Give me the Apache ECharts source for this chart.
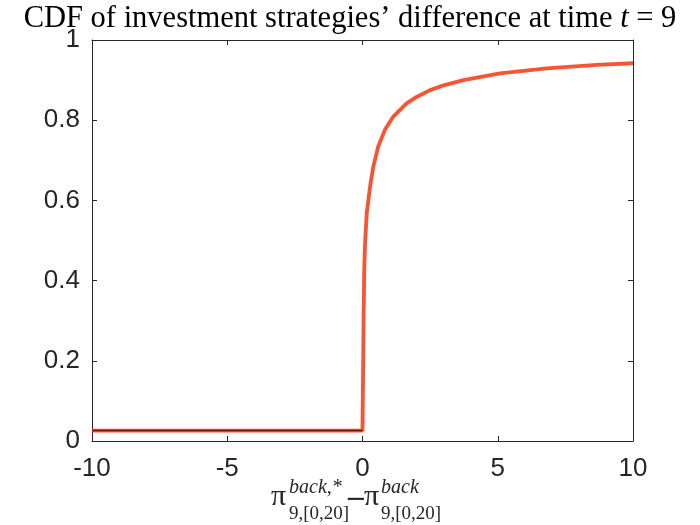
<!DOCTYPE html>
<html>
<head>
<meta charset="utf-8">
<script src="https://cdn.jsdelivr.net/npm/echarts@6/dist/echarts.min.js"></script>
<style>
  html, body { margin: 0; padding: 0; background: #fff; }
  #main { width: 700px; height: 525px; }
</style>
</head>
<body>
<div id="main"></div>
<script>
// CDF values
var cdfX = [-10, 0, 0.02, 0.04, 0.065, 0.1, 0.16, 0.28, 0.40, 0.58, 0.83, 1.14, 1.63, 2.0, 2.5, 3.0, 3.73, 5.08, 6.81, 8.66, 10];
var cdfY = [0.026, 0.026, 0.15, 0.30, 0.43, 0.50, 0.57, 0.634, 0.684, 0.734, 0.776, 0.809, 0.842, 0.858, 0.875, 0.887, 0.900, 0.917, 0.929, 0.938, 0.942];
// flat part below zero
var flatX = [-10, 0];
var flatY = [0.026, 0.026];
var xTicks = [-10, -5, 0, 5, 10];
var yTicks = [0, 0.2, 0.4, 0.6, 0.8, 1];

function pairs(xs, ys) {
  var out = [];
  for (var i = 0; i < xs.length; i++) out.push([xs[i], ys[i]]);
  return out;
}

var axisColor = '#262626';
var labelFont = { fontFamily: 'Liberation Sans', fontSize: 26, color: axisColor };

// little helper for the math label pieces
function mathText(x, y, txt, font) {
  return {
    type: 'text', x: x, y: y,
    style: { text: txt, font: font, fill: '#262626', align: 'left', verticalAlign: 'middle' }
  };
}

var myChart = echarts.init(document.getElementById('main'));

var option = {
  animation: false,
  backgroundColor: '#fff',
  title: {
    text: 'CDF of investment strategies’ difference at time {t|t} = 9',
    left: 'center',
    top: -2,
    textStyle: {
      fontFamily: 'Liberation Serif',
      fontSize: 30.5,
      fontWeight: 'normal',
      color: '#000',
      rich: {
        t: { fontFamily: 'Liberation Serif', fontStyle: 'italic', fontSize: 30.5, color: '#000' }
      }
    }
  },
  grid: { left: 92, right: 67, top: 40, bottom: 84 },
  xAxis: [
    {
      type: 'value', min: xTicks[0], max: xTicks[xTicks.length - 1], interval: 5,
      axisLine: { show: true, onZero: false, lineStyle: { color: axisColor, width: 1 } },
      axisTick: { show: true, inside: true, length: 5, lineStyle: { color: axisColor } },
      axisLabel: Object.assign({ margin: 15 }, labelFont),
      splitLine: { show: false }
    },
    {
      type: 'value', position: 'top', min: xTicks[0], max: xTicks[xTicks.length - 1], interval: 5,
      axisLine: { show: true, onZero: false, lineStyle: { color: axisColor, width: 1 } },
      axisTick: { show: true, inside: true, length: 5, lineStyle: { color: axisColor } },
      axisLabel: { show: false },
      splitLine: { show: false }
    }
  ],
  yAxis: [
    {
      type: 'value', min: yTicks[0], max: yTicks[yTicks.length - 1], interval: 0.2,
      axisLine: { show: true, onZero: false, lineStyle: { color: axisColor, width: 1 } },
      axisTick: { show: true, inside: true, length: 5, lineStyle: { color: axisColor } },
      axisLabel: Object.assign({ margin: 12 }, labelFont),
      splitLine: { show: false }
    },
    {
      type: 'value', position: 'right', min: yTicks[0], max: yTicks[yTicks.length - 1], interval: 0.2,
      axisLine: { show: true, onZero: false, lineStyle: { color: axisColor, width: 1 } },
      axisTick: { show: true, inside: true, length: 5, lineStyle: { color: axisColor } },
      axisLabel: { show: false },
      splitLine: { show: false }
    }
  ],
  series: [
    {
      type: 'line',
      data: pairs(cdfX, cdfY),
      showSymbol: false,
      smooth: false,
      lineStyle: { color: '#f7401c', width: 3.8, opacity: 0.9 }
    },
    {
      type: 'line',
      data: pairs(flatX, flatY),
      showSymbol: false,
      lineStyle: { color: '#7a1606', width: 1.6 }
    }
  ],
  graphic: [
    // x axis label: pi^{back,*}_{9,[0,20]} - pi^{back}_{9,[0,20]}
    mathText(271, 497, 'π', '30px Liberation Serif'),
    mathText(289, 488, 'back,*', 'italic 20px Liberation Serif'),
    mathText(289, 514, '9,[0,20]', '19px Liberation Serif'),
    mathText(345, 500, '−', '26px DejaVu Sans'),
    mathText(364, 497, 'π', '30px Liberation Serif'),
    mathText(381, 488, 'back', 'italic 20px Liberation Serif'),
    mathText(381, 514, '9,[0,20]', '19px Liberation Serif')
  ]
};

myChart.setOption(option);
</script>
</body>
</html>
